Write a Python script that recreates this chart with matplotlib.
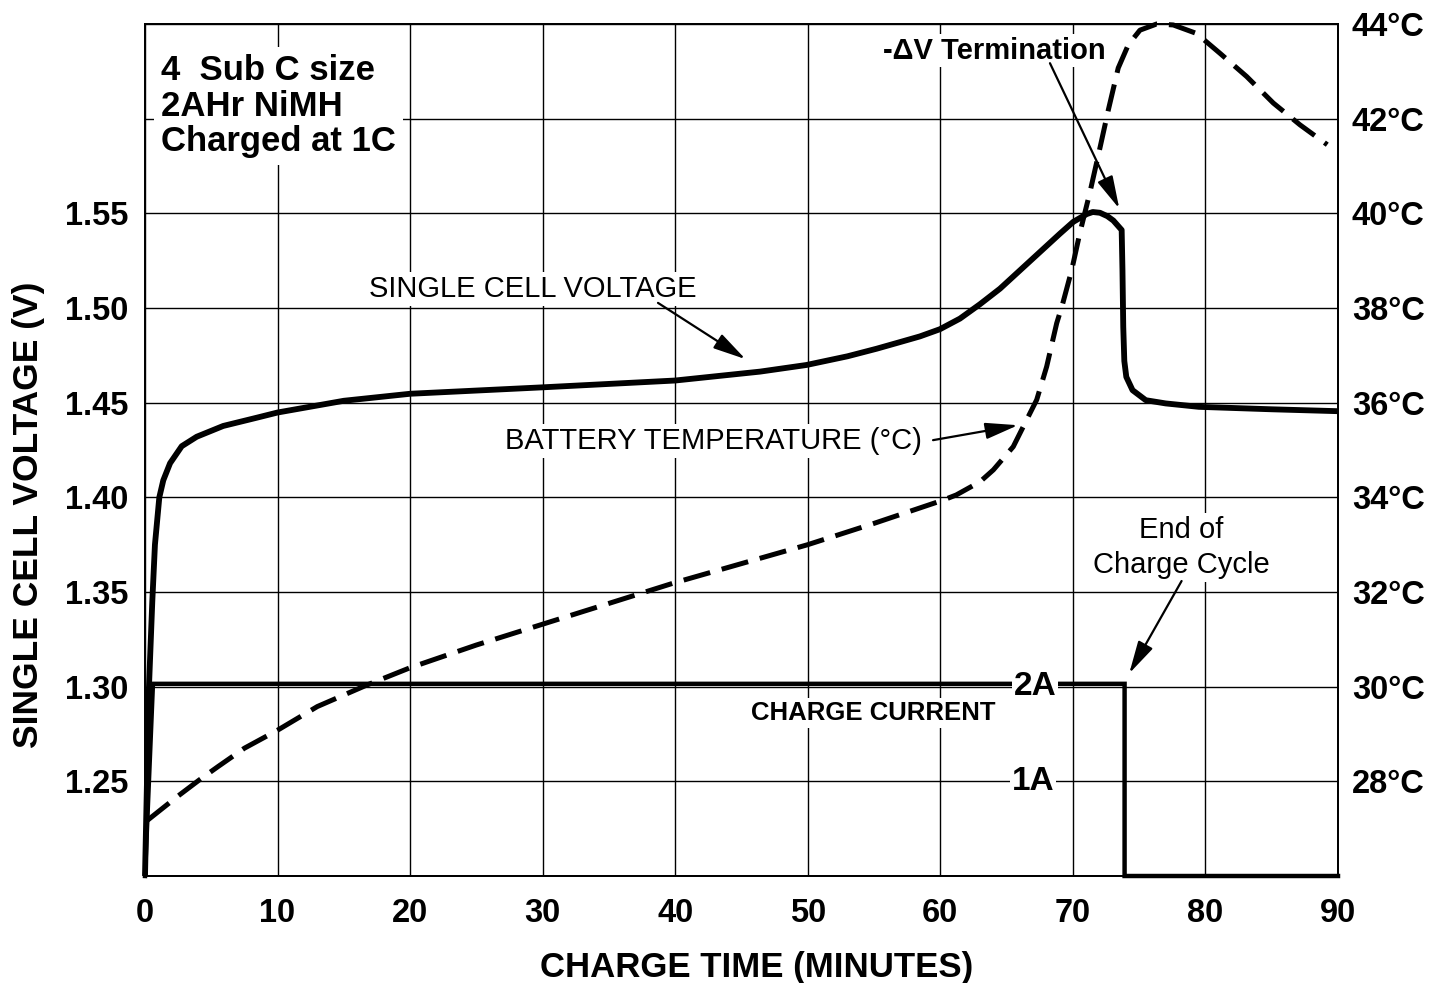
import matplotlib
matplotlib.use('Agg')
import matplotlib.pyplot as plt

plt.rcParams['font.family'] = ['Liberation Sans', 'DejaVu Sans']

# ---------------- data ----------------
time_v = [0, 0.3, 0.55, 0.75, 1.08, 1.38, 1.89, 2.77, 3.9, 5.9, 8.4, 10, 15, 20, 30,
          40, 46.4, 49.9, 53.0, 55.2, 56.96, 58.46, 59.97, 61.48, 62.99, 64.5, 66.01,
          67.52, 69.03, 70.03, 71.04, 71.5, 72.04, 72.6, 73.05, 73.68, 73.74, 73.8,
          73.88, 74.03, 74.5, 75.5, 77.0, 79.5, 85, 90]
volt = [1.200, 1.300, 1.345, 1.375, 1.400, 1.409, 1.418, 1.427, 1.432, 1.4377, 1.442,
        1.4448, 1.451, 1.4547, 1.4581, 1.4617, 1.4664, 1.4699, 1.4745, 1.4785, 1.4820,
        1.4850, 1.4888, 1.4944, 1.5020, 1.5102, 1.5199, 1.5296, 1.5393, 1.5455, 1.5496,
        1.5507, 1.5503, 1.5485, 1.5462, 1.5412, 1.520, 1.490, 1.472, 1.4636, 1.4566,
        1.4513, 1.4496, 1.4478, 1.4465, 1.4455]

time_temp = [0.2, 2.4, 4.1, 5.5, 7.5, 10, 13, 16.7, 20, 25, 30, 36.6, 40, 45, 50, 55,
             60.2, 61.2, 63.0, 64.0, 65.5, 66.5, 67.27, 68.02, 68.78, 69.2, 69.91, 70.53,
             71.29, 72.04, 72.67, 73.42, 74.18, 75.06, 76.32, 77.57, 79.33, 81.1, 83.11,
             85.12, 87.13, 89.19]
temp = [27.18, 27.67, 28.03, 28.31, 28.70, 29.08, 29.58, 30.03, 30.40, 30.88, 31.32,
        31.90, 32.20, 32.60, 33.00, 33.45, 33.94, 34.05, 34.33, 34.58, 35.07, 35.63,
        36.06, 36.76, 37.68, 38.06, 38.80, 39.59, 40.45, 41.38, 42.18, 43.07, 43.56,
        43.87, 44.00, 43.98, 43.80, 43.38, 42.89, 42.33, 41.87, 41.45]

time_i = [0, 0.6, 73.9, 73.9, 90]
current = [0, 2.03, 2.03, 0, 0]

x_ticks = [0, 10, 20, 30, 40, 50, 60, 70, 80, 90]
v_ticks = [1.20, 1.25, 1.30, 1.35, 1.40, 1.45, 1.50, 1.55, 1.60, 1.65]
v_labels = ['', '1.25', '1.30', '1.35', '1.40', '1.45', '1.50', '1.55', '', '']
t_ticks = [26, 28, 30, 32, 34, 36, 38, 40, 42, 44]
t_labels = ['', '28°C', '30°C', '32°C', '34°C', '36°C', '38°C', '40°C', '42°C', '44°C']

# ---------------- figure ----------------
W, H = 1434, 983
fig = plt.figure(figsize=(W / 100, H / 100), dpi=100)
ax = fig.add_axes([145 / W, 1 - 876 / H, (1338 - 145) / W, (876 - 24) / H])
ax.set_xlim(0, 90)
ax.set_ylim(1.20, 1.65)
ax.set_xticks(x_ticks)
ax.set_yticks(v_ticks)
ax.set_yticklabels(v_labels)
ax.grid(True, color='black', lw=1.0)
ax.tick_params(axis='both', length=0, labelsize=23.5)
ax.tick_params(axis='x', pad=15.5)
ax.tick_params(axis='y', pad=12)
for lab in ax.get_xticklabels() + ax.get_yticklabels():
    lab.set_fontweight('bold')
for s in ax.spines.values():
    s.set_linewidth(1.3)

ax.set_ylabel('SINGLE CELL VOLTAGE (V)', fontsize=25.5, fontweight='bold')
ax.yaxis.set_label_coords(-0.084, 0.424)
ax.set_xlabel('CHARGE TIME (MINUTES)', fontsize=25, fontweight='bold')
ax.xaxis.set_label_coords(0.513, -0.088)

ax_t = ax.twinx()
ax_t.set_ylim(26, 44)
ax_t.set_yticks(t_ticks)
ax_t.set_yticklabels(t_labels)
ax_t.tick_params(axis='y', length=0, labelsize=23.5, pad=10)
for lab in ax_t.get_yticklabels():
    lab.set_fontweight('bold')
for s in ax_t.spines.values():
    s.set_linewidth(1.3)

ax_i = ax.twinx()
ax_i.set_ylim(0, 9)
ax_i.axis('off')

# ---------------- curves ----------------
ax.plot(time_v, volt, color='black', lw=4.2, solid_joinstyle='round',
        solid_capstyle='butt', clip_on=False, zorder=2)
ax_t.plot(time_temp, temp, color='black', lw=3.6, linestyle=(0, (5.5, 2.4)),
          clip_on=False, zorder=2)
ax_i.plot(time_i, current, color='black', lw=3.2, clip_on=False, zorder=2,
          solid_joinstyle='miter')

# ---------------- annotations ----------------
box = dict(facecolor='white', edgecolor='none', pad=2)
ax.text(1.21, 1.6065, '4  Sub C size\n2AHr NiMH\nCharged at 1C', fontsize=25,
        fontweight='bold', ha='left', va='center', linespacing=1.1,
        bbox=dict(facecolor='white', edgecolor='none', pad=5), zorder=5)
ax.text(29.27, 1.5099, 'SINGLE CELL VOLTAGE', fontsize=21, ha='center', va='center',
        bbox=box, zorder=5)
ax.text(42.92, 1.4297, 'BATTERY TEMPERATURE (°C)', fontsize=21, ha='center',
        va='center', bbox=box, zorder=5)
ax.text(64.05, 1.636, '-ΔV Termination', fontsize=21, fontweight='bold',
        ha='center', va='center', bbox=box, zorder=5)
ax.text(54.96, 1.286, 'CHARGE CURRENT', fontsize=18.5, fontweight='bold',
        ha='center', va='center', bbox=box, zorder=5)
ax.text(78.15, 1.3735, 'End of\nCharge Cycle', fontsize=21, ha='center',
        va='center', linespacing=1.33, bbox=box, zorder=5)

ibox = dict(facecolor='white', edgecolor='none', pad=1.5)
ax_i.text(67.14, 2.0, '2A', fontsize=24, fontweight='bold', ha='center',
          va='center', bbox=ibox, zorder=6)
ax_i.text(66.99, 1.0, '1A', fontsize=24, fontweight='bold', ha='center',
          va='center', bbox=ibox, zorder=6)

arrow = dict(arrowstyle='-|>,head_length=1.0,head_width=0.25', color='black',
             lw=1.6, mutation_scale=20, shrinkA=0, shrinkB=0)
ax.annotate('', xy=(45.3, 1.473), xytext=(38.7, 1.5027), arrowprops=arrow, zorder=6)
ax.annotate('', xy=(65.86, 1.4381), xytext=(59.45, 1.4302), arrowprops=arrow, zorder=6)
ax.annotate('', xy=(73.5, 1.5525), xytext=(68.27, 1.6293), arrowprops=arrow, zorder=6)
ax.annotate('', xy=(74.25, 1.307), xytext=(78.2, 1.3558), arrowprops=arrow, zorder=6)

fig.savefig('out.png', dpi=100, facecolor='white')
